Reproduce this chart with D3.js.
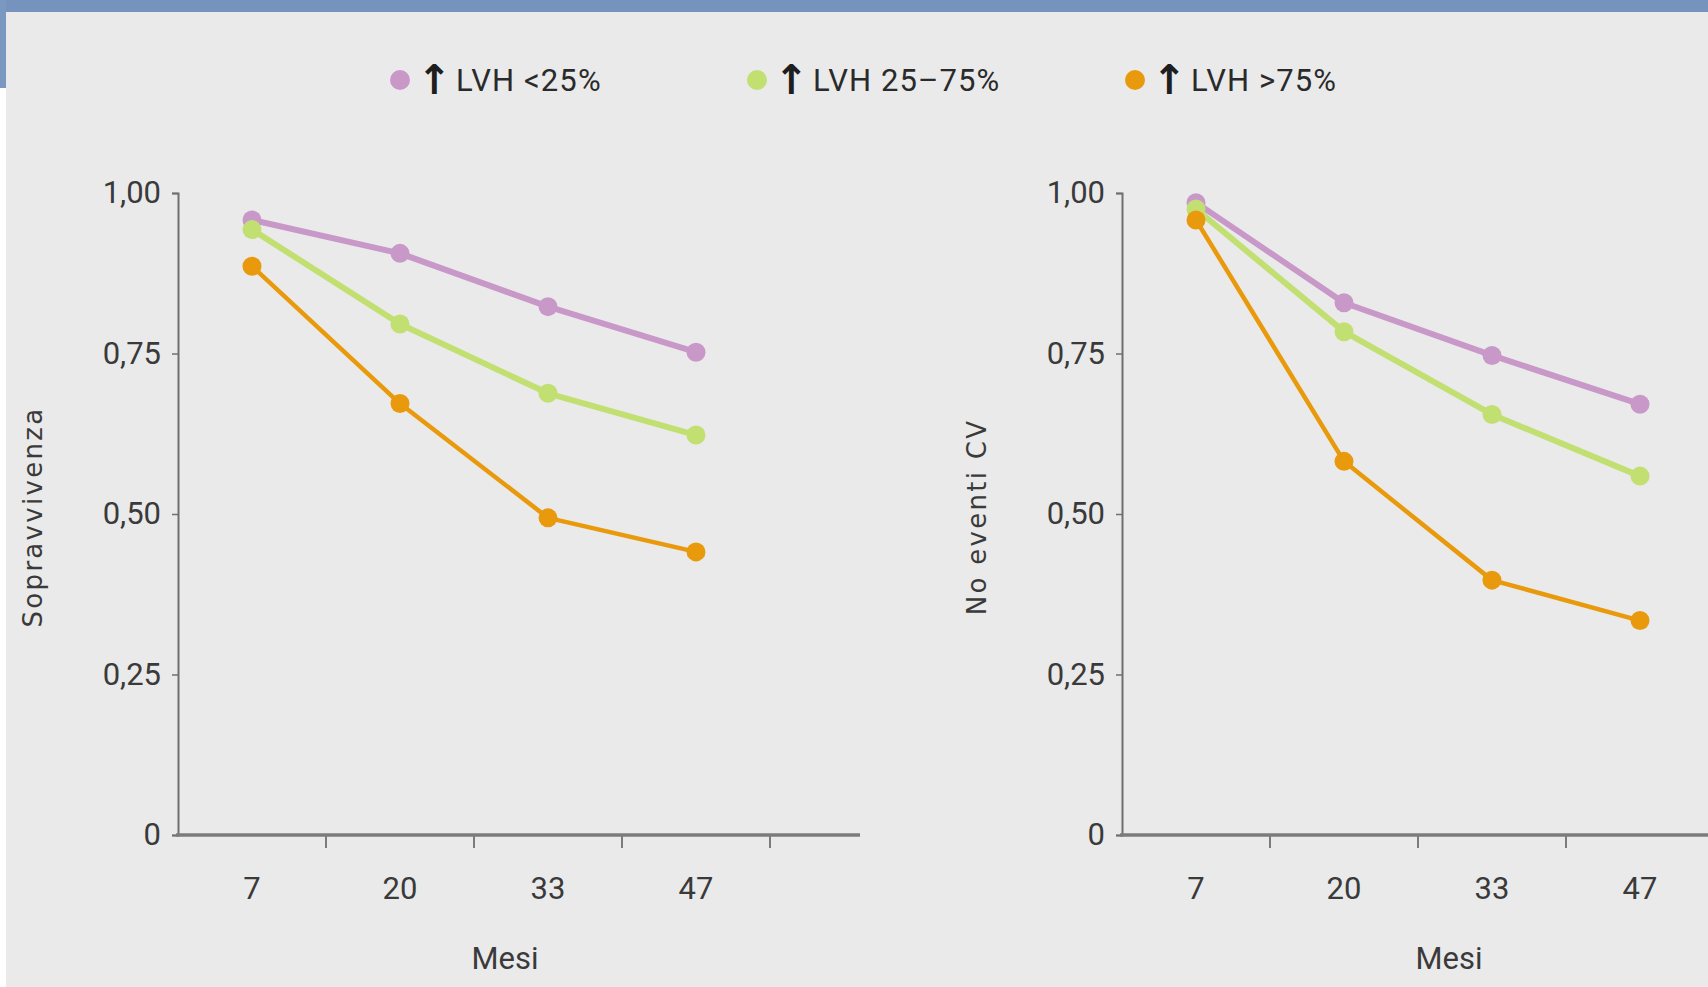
<!DOCTYPE html>
<html><head><meta charset="utf-8">
<script src="https://cdn.jsdelivr.net/npm/d3@7"></script>
<style>
html,body{margin:0;padding:0;background:#fff;}
svg{display:block;}
</style></head>
<body>
<svg id="c" width="1708" height="987"></svg>
<script>
// ---- data ----
const months = ["7", "20", "33", "47"];
const seriesArrow = "↑";
const seriesNames = ["LVH <25%", "LVH 25–75%", "LVH >75%"];
const seriesColors = ["#c898c9", "#c2df72", "#e99a0c"];
const yTicks = [0, 0.25, 0.5, 0.75, 1];
const yTickLabels = ["0", "0,25", "0,50", "0,75", "1,00"];
// left panel: Sopravvivenza
const survLow  = [0.958, 0.906, 0.823, 0.752];
const survMid  = [0.943, 0.796, 0.688, 0.623];
const survHigh = [0.886, 0.672, 0.494, 0.441];
// right panel: No eventi CV
const cvLow  = [0.985, 0.829, 0.747, 0.671];
const cvMid  = [0.975, 0.784, 0.655, 0.559];
const cvHigh = [0.958, 0.582, 0.397, 0.334];

const svg = d3.select("#c");
// background & frame
svg.append("rect").attr("x",0).attr("y",0).attr("width",1708).attr("height",987).attr("fill","#ffffff");
svg.append("rect").attr("x",6).attr("y",0).attr("width",1702).attr("height",987).attr("fill","#eaeaea");
svg.append("rect").attr("x",0).attr("y",0).attr("width",1708).attr("height",12).attr("fill","#7693bd");
svg.append("rect").attr("x",0).attr("y",0).attr("width",6).attr("height",88).attr("fill","#7a98c0");

const tickFont = "Roboto, 'Liberation Sans', sans-serif";

// legend
const legendX = [400, 757, 1135];
seriesNames.forEach((n, i) => {
  svg.append("circle").attr("cx", legendX[i]).attr("cy", 80).attr("r", 10).attr("fill", seriesColors[i]);
  svg.append("text").attr("x", legendX[i] + 17).attr("y", 94)
    .attr("font-family", "'DejaVu Sans', sans-serif").attr("font-weight", "bold")
    .attr("font-size", 41).attr("fill", "#1e1e1e").text(seriesArrow);
  svg.append("text").attr("x", legendX[i] + 56).attr("y", 91)
    .attr("font-family", tickFont).attr("font-size", 31).attr("letter-spacing", 1.1)
    .attr("fill", "#2a2a2a").text(n);
});

function panel(x0, xEnd, titleX, title, data) {
  const y = d3.scaleLinear().domain([0, 1]).range([835, 193]);
  const x = d3.scaleBand().domain(months).range([x0, x0 + 592]).padding(0);
  const g = svg.append("g");

  // y axis
  const ya = g.append("g").attr("transform", `translate(${x0},0)`)
    .call(d3.axisLeft(y).tickValues(yTicks).tickSize(6).tickPadding(11)
      .tickFormat((d, i) => yTickLabels[i]));
  ya.select(".domain").attr("stroke", "#6f6f6f").attr("stroke-width", 2);
  ya.selectAll(".tick line").attr("stroke", "#6f6f6f").attr("stroke-width", 1.5);
  ya.selectAll(".tick text").attr("font-family", tickFont).attr("font-size", 31).attr("fill", "#3a3a3a");

  // x axis line
  g.append("line").attr("x1", x0 - 2).attr("x2", xEnd).attr("y1", y(0)).attr("y2", y(0))
    .attr("stroke", "#7b7b7b").attr("stroke-width", 3.5);
  // x ticks at band boundaries
  const bounds = months.map(m => x(m) + x.bandwidth());
  g.selectAll("line.xt").data(bounds).enter().append("line")
    .attr("x1", d => d).attr("x2", d => d).attr("y1", y(0)).attr("y2", y(0) + 13)
    .attr("stroke", "#7b7b7b").attr("stroke-width", 2);
  // x labels
  const xa = g.append("g").attr("transform", `translate(0,${y(0)})`)
    .call(d3.axisBottom(x).tickSize(0).tickPadding(42));
  xa.select(".domain").remove();
  xa.selectAll(".tick text").attr("font-family", tickFont).attr("font-size", 31).attr("fill", "#3a3a3a");

  // axis titles
  g.append("text").attr("x", x0 + 327).attr("y", 969).attr("text-anchor", "middle")
    .attr("font-family", tickFont).attr("font-size", 31).attr("fill", "#3a3a3a").text("Mesi");
  g.append("text").attr("transform", `translate(${titleX},517) rotate(-90)`)
    .attr("text-anchor", "middle").attr("font-family", "'DejaVu Sans', sans-serif")
    .attr("font-size", 26).attr("letter-spacing", 2.3).attr("fill", "#3a3a3a").text(title);

  const line = d3.line().x((d, i) => x(months[i]) + x.bandwidth() / 2).y(d => y(d));
  const widths = [6, 6, 4.5];
  data.forEach((vals, s) => {
    g.append("path").datum(vals).attr("d", line).attr("fill", "none")
      .attr("stroke", seriesColors[s]).attr("stroke-width", widths[s]).attr("stroke-linejoin", "round");
  });
  data.forEach((vals, s) => {
    g.selectAll(null).data(vals).enter().append("circle")
      .attr("cx", (d, i) => x(months[i]) + x.bandwidth() / 2).attr("cy", d => y(d))
      .attr("r", 9.5).attr("fill", seriesColors[s]);
  });
}

panel(178, 860, 42, "Sopravvivenza", [survLow, survMid, survHigh]);
panel(1122, 1708, 986, "No eventi CV", [cvLow, cvMid, cvHigh]);
</script>
</body></html>
